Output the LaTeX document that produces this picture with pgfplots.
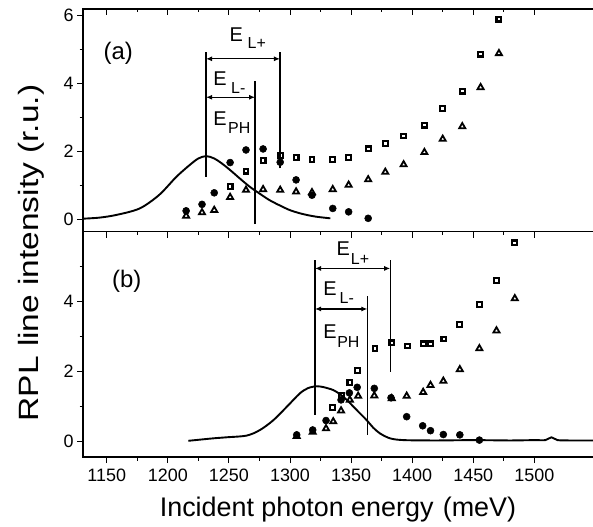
\documentclass[border=0pt]{standalone}
\usepackage{fontspec}
\setmainfont{Liberation Sans}
\usepackage{pgfplots}
\pgfplotsset{compat=1.18}
\usetikzlibrary{arrows.meta}
\pgfplotsset{
  base/.style={scale only axis, width=510bp, xmin=1130.6, xmax=1548,
    xtick={1150,1200,...,1500}, minor x tick num=1,
    major tick length=6bp, minor tick length=3.5bp,
    tick style={line width=0.9bp, black},
    axis line style={draw=none},
    tick label style={font=\fontsize{18}{20}\selectfont},
    xticklabel style={yshift=-2bp},
    /pgf/number format/assume math mode=true,
    /pgf/number format/1000 sep={}},
  toppanel/.style={at={(83bp,295.3bp)}, anchor=south west, height=222.7bp, ymin=-0.3735, ymax=6.176},
  botpanel/.style={at={(83bp,70bp)}, anchor=south west, height=225.3bp, ymin=-0.443, ymax=6.0},
  sq/.style={only marks, black, line width=2.1bp, mark=square, mark size=2.4bp,
    every mark/.append style={solid, fill=white, draw=black, line width=2.1bp}},
  tr/.style={only marks, black, line width=1.8bp, mark=triangle, mark size=3.5bp,
    every mark/.append style={solid, fill=white, draw=black, line width=1.8bp}},
  ci/.style={only marks, black, mark=*, mark size=3.5bp, mark options={fill=black, draw=black, line width=0.5bp}},
  cur/.style={no marks, smooth, tension=0.5, line width=1.9bp, black},
}
\tikzset{
  ann/.style={line width=1.1bp, black},
  arr/.style={line width=1.1bp, black, {Latex[length=6bp,width=5bp]}-{Latex[length=6bp,width=5bp]}},
  bigE/.style={font=\fontsize{20}{22}\selectfont, inner sep=0pt},
  subE/.style={font=\fontsize{16}{18}\selectfont, inner sep=0pt},
}
\begin{document}
\begin{tikzpicture}
\path[use as bounding box] (0,0) rectangle (593bp,527bp);

% ---------------- top panel (a) ----------------
\begin{axis}[base, toppanel, name=top, xtick=\empty, tick align=outside,
  ytick={0,2,4,6}, minor ytick={1,3,5}]
\addplot[cur] coordinates {(1131,0.01) (1144,0.04) (1158,0.12) (1177,0.31) (1193,0.71) (1207,1.24) (1218,1.59) (1225,1.78) (1231.5,1.85) (1238,1.78) (1244,1.64) (1251,1.44) (1259,1.19) (1267,0.95) (1275,0.75) (1283,0.56) (1291,0.41) (1300,0.26) (1310,0.15) (1321,0.07) (1333,0.02)};
\addplot[sq] coordinates {(1251,0.95) (1264,1.41) (1278,1.71) (1292,1.86) (1305,1.80) (1318,1.74) (1335,1.74) (1348,1.81) (1364,2.06) (1378,2.22) (1393,2.44) (1410,2.76) (1425,3.24) (1441,3.76) (1456,4.85) (1471,5.88)};
\addplot[ci] coordinates {(1215,0.24) (1228,0.43) (1238,0.77) (1251,1.66) (1264,2.03) (1278,2.06) (1292,1.67) (1305,1.15) (1318,0.70) (1335,0.31) (1348,0.21) (1364,0.02)};
\addplot[tr] coordinates {(1215,0.09) (1228,0.19) (1238,0.26) (1251,0.64) (1264,0.85) (1278,0.87) (1292,0.85) (1305,0.80) (1318,0.78) (1335,0.87) (1348,1.00) (1364,1.16) (1378,1.38) (1393,1.60) (1410,1.96) (1425,2.35) (1441,2.72) (1456,3.87) (1471,4.87)};
\draw[ann] (axis cs:1231.3,1.24) -- (axis cs:1231.3,4.92);
\draw[ann] (axis cs:1271.4,-0.15) -- (axis cs:1271.4,4.06);
\draw[ann] (axis cs:1291.8,1.49) -- (axis cs:1291.8,4.92);
\draw[arr] (axis cs:1231.3,4.71) -- (axis cs:1291.8,4.71);
\draw[arr] (axis cs:1231.3,3.58) -- (axis cs:1271.4,3.58);
\node[bigE] at (axis cs:1256,5.41) {E};
\node[subE] at (axis cs:1272.8,5.17) {L+};
\node[bigE] at (axis cs:1242.8,4.14) {E};
\node[subE] at (axis cs:1257.7,3.84) {L-};
\node[bigE] at (axis cs:1242.8,2.96) {E};
\node[subE] at (axis cs:1258.5,2.67) {PH};
\node[font=\fontsize{24}{26}\selectfont, inner sep=0pt] at (axis cs:1159.5,4.87) {(a)};
\end{axis}
\begin{axis}[base, toppanel, hide y axis, tick align=inside, xtick pos=right, xticklabels={}]
\addplot[draw=none] coordinates {(1200,1)};
\end{axis}

% ---------------- bottom panel (b) ----------------
\begin{axis}[base, botpanel, name=bot, tick align=outside, xtick pos=left,
  ytick={0,2,4}, minor ytick={1,3,5}]
\addplot[cur] coordinates {(1216.8,0.02) (1237,0.09) (1248,0.12) (1264.6,0.17) (1275.5,0.33) (1286.4,0.61) (1297.3,0.99) (1308.2,1.38) (1315,1.53) (1322,1.58) (1328,1.55) (1335.5,1.47) (1341,1.35) (1346.5,1.19) (1354.6,0.90) (1362.8,0.61) (1368,0.40) (1373.7,0.23) (1382,0.09) (1393,0.04) (1420,0.03) (1450,0.04) (1480,0.03) (1500,0.04) (1509,0.04) (1514,0.12) (1519,0.04) (1530,0.03) (1548,0.03)};
\addplot[sq] coordinates {(1335,0.97) (1342,1.31) (1349,1.68) (1355,2.04) (1369.6,2.66) (1383.3,2.82) (1396,2.73) (1409,2.79) (1415,2.79) (1426,2.93) (1439,3.35) (1455,3.92) (1469,4.61) (1484,5.68)};
\addplot[ci] coordinates {(1305.5,0.19) (1318.6,0.33) (1329.5,0.60) (1341.8,1.19) (1348.6,1.39) (1355,1.55) (1369,1.52) (1382.7,1.25) (1395.5,0.71) (1408.6,0.45) (1415,0.31) (1425.5,0.20) (1439,0.19) (1455,0.04)};
\addplot[tr] coordinates {(1305.5,0.15) (1318.6,0.27) (1329.5,0.37) (1335.4,0.57) (1341.8,0.88) (1349,1.19) (1355.8,1.30) (1369,1.31) (1383.3,1.23) (1395.5,1.30) (1409,1.41) (1415,1.61) (1425.5,1.73) (1439,2.06) (1455,2.66) (1469,3.17) (1484,4.09)};
\draw[ann] (axis cs:1320.5,0.76) -- (axis cs:1320.5,5.2);
\draw[ann] (axis cs:1363.3,0.2) -- (axis cs:1363.3,4.16);
\draw[ann] (axis cs:1382,2.0) -- (axis cs:1382,5.2);
\draw[arr] (axis cs:1320.5,4.95) -- (axis cs:1382,4.95);
\draw[arr] (axis cs:1320.5,3.79) -- (axis cs:1363.3,3.79);
\node[bigE] at (axis cs:1343.7,5.52) {E};
\node[subE] at (axis cs:1357.3,5.23) {L+};
\node[bigE] at (axis cs:1332.8,4.38) {E};
\node[subE] at (axis cs:1346.5,4.09) {L-};
\node[bigE] at (axis cs:1332.8,3.14) {E};
\node[subE] at (axis cs:1347.8,2.85) {PH};
\node[font=\fontsize{24}{26}\selectfont, inner sep=0pt] at (axis cs:1166.4,4.57) {(b)};
\end{axis}
\begin{axis}[base, botpanel, hide y axis, tick align=inside, xtick pos=right, xticklabels={}]
\addplot[draw=none] coordinates {(1200,1)};
\end{axis}

% spines (no right spine, as in the reference)
\draw[line width=1.1bp] (top.north east) -- (top.north west) -- (bot.south west) -- (bot.south east);
\draw[line width=1.1bp] (top.south west) -- (top.south east);

% axis labels
\node[font=\fontsize{27}{30}\selectfont, inner sep=0pt, anchor=base] at (338bp,11bp) {Incident photon energy\hspace{0.35em}(meV)};
\node[font=\fontsize{28}{30}\selectfont, inner sep=0pt, rotate=90, anchor=base] at (38bp,274bp) {\scalebox{1.2}[1]{RPL line intensity (r.u.)}};
\end{tikzpicture}
\end{document}
